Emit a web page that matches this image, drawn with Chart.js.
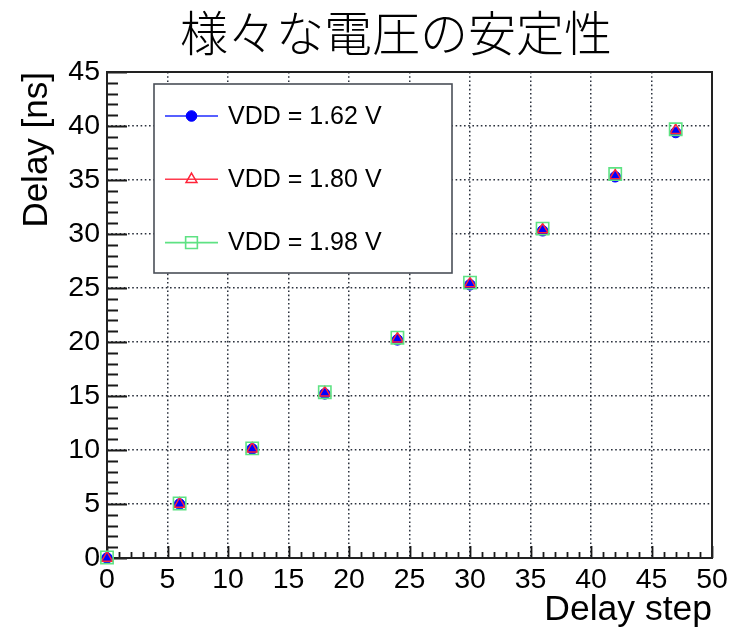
<!DOCTYPE html>
<html>
<head>
<meta charset="utf-8">
<title>様々な電圧の安定性</title>
<script src="https://cdn.jsdelivr.net/npm/chart.js@4/dist/chart.umd.min.js"></script>
<style>
  html, body { margin: 0; padding: 0; background: #ffffff; }
  #wrap { width: 742px; height: 633px; }
</style>
</head>
<body>
<div id="wrap"><canvas id="c" width="742" height="633"></canvas></div>
<script>
// Delay step settings and measured delays for three supply voltages
const delaySteps = [0, 6, 12, 18, 24, 30, 36, 42, 47];
const delayVdd162 = [0.0, 5.0, 10.1, 15.2, 20.2, 25.3, 30.3, 35.3, 39.4];
const delayVdd180 = [0.0, 5.0, 10.1, 15.3, 20.3, 25.4, 30.4, 35.4, 39.6];
const delayVdd198 = [0.05, 5.05, 10.15, 15.35, 20.4, 25.5, 30.5, 35.55, 39.7];
const seriesLabels = ['VDD = 1.62 V', 'VDD = 1.80 V', 'VDD = 1.98 V'];

// Axis tick values
const xTickValues = [0, 5, 10, 15, 20, 25, 30, 35, 40, 45, 50];
const yTickValues = [0, 5, 10, 15, 20, 25, 30, 35, 40, 45];

const chartTitle = '様々な電圧の安定性';
const xTitle = 'Delay step';
const yTitle = 'Delay [ns]';

const FONT = '"Liberation Sans", Arial, Helvetica, sans-serif';
const GRID_COLOR = '#2a303c';

function toPoints(xs, ys) {
  return xs.map((x, i) => ({ x: x, y: ys[i] }));
}

// Title, frame, inward major/minor ticks and the boxed legend
const decorPlugin = {
  id: 'decor',
  beforeDatasetsDraw(chart) {
    const ctx = chart.ctx;
    const a = chart.chartArea;
    const xs = chart.scales.x, ys = chart.scales.y;
    ctx.save();
    ctx.strokeStyle = '#1a1a1a';
    ctx.lineWidth = 1.8;
    ctx.beginPath();
    for (let v = xs.min; v <= xs.max; v += 1) {
      const px = Math.round(xs.getPixelForValue(v)) + 0.5;
      const len = (v % 5 === 0) ? 12 : 6;
      ctx.moveTo(px, a.bottom);
      ctx.lineTo(px, a.bottom - len);
    }
    for (let v = ys.min; v <= ys.max; v += 1) {
      const py = Math.round(ys.getPixelForValue(v)) + 0.5;
      const len = (v % 5 === 0) ? 20 : 11;
      ctx.moveTo(a.left, py);
      ctx.lineTo(a.left + len, py);
    }
    ctx.stroke();
    ctx.lineWidth = 2;
    ctx.strokeStyle = '#222222';
    ctx.strokeRect(a.left, a.top, a.right - a.left, a.bottom - a.top);
    ctx.restore();
  },
  afterDraw(chart) {
    const ctx = chart.ctx;
    const a = chart.chartArea;
    ctx.save();
    // chart title
    ctx.fillStyle = '#000000';
    ctx.font = '300 48px "Noto Sans CJK JP", "Noto Sans CJK SC", sans-serif';
    ctx.textAlign = 'center';
    ctx.textBaseline = 'middle';
    ctx.fillText(chartTitle, 396, 33);

    // legend box
    const bx = a.left + 47, by = a.top + 12, bw = 298, bh = 189;
    ctx.fillStyle = '#ffffff';
    ctx.fillRect(bx, by, bw, bh);
    ctx.strokeStyle = '#4a4f58';
    ctx.lineWidth = 1.6;
    ctx.strokeRect(bx, by, bw, bh);

    const rowH = 63.3;
    chart.data.datasets.forEach((ds, i) => {
      const cy = by + 32 + i * rowH;
      ctx.strokeStyle = ds.borderColor;
      ctx.lineWidth = 1.6;
      ctx.beginPath();
      ctx.moveTo(bx + 11, cy);
      ctx.lineTo(bx + 64, cy);
      ctx.stroke();
      ctx.fillStyle = ds.pointBackgroundColor;
      ctx.strokeStyle = ds.pointBorderColor;
      ctx.lineWidth = ds.pointBorderWidth;
      Chart.helpers.drawPoint(ctx, {
        pointStyle: ds.pointStyle,
        radius: ds.legendRadius,
        borderWidth: ds.pointBorderWidth,
        rotation: 0
      }, bx + 37.5, cy);
      ctx.fillStyle = '#000000';
      ctx.font = '25px ' + FONT;
      ctx.textAlign = 'left';
      ctx.textBaseline = 'middle';
      ctx.fillText(ds.label, bx + 74, cy + 1);
    });
    ctx.restore();
  }
};

const commonScale = {
  type: 'linear',
  border: { display: false, dash: [1.6, 2.6] },
  grid: {
    drawTicks: false,
    color: GRID_COLOR,
    lineWidth: 1.5
  }
};

new Chart(document.getElementById('c'), {
  type: 'scatter',
  data: {
    datasets: [
      {
        label: seriesLabels[0],
        data: toPoints(delaySteps, delayVdd162),
        borderColor: '#1f2bff',
        backgroundColor: '#0000ff',
        pointStyle: 'circle',
        pointRadius: 5.3,
        pointBackgroundColor: '#0000ff',
        pointBorderColor: '#0000ff',
        pointBorderWidth: 1,
        legendRadius: 5.3,
        showLine: false,
        clip: false,
        order: 3
      },
      {
        label: seriesLabels[1],
        data: toPoints(delaySteps, delayVdd180),
        borderColor: '#ff3b4e',
        backgroundColor: 'rgba(0,0,0,0)',
        pointStyle: 'triangle',
        pointRadius: 6.3,
        pointBackgroundColor: 'rgba(0,0,0,0)',
        pointBorderColor: '#ff2238',
        pointBorderWidth: 1.5,
        legendRadius: 6.3,
        showLine: false,
        clip: false,
        order: 2
      },
      {
        label: seriesLabels[2],
        data: toPoints(delaySteps, delayVdd198),
        borderColor: '#5ee283',
        backgroundColor: 'rgba(0,0,0,0)',
        pointStyle: 'rect',
        pointRadius: 8.7,
        pointBackgroundColor: 'rgba(0,0,0,0)',
        pointBorderColor: '#5ee283',
        pointBorderWidth: 1.6,
        legendRadius: 8.3,
        showLine: false,
        clip: false,
        order: 1
      }
    ]
  },
  options: {
    responsive: false,
    animation: false,
    devicePixelRatio: 1,
    layout: { padding: { top: 72, right: 30, bottom: 0, left: 0 } },
    plugins: {
      legend: { display: false },
      title: { display: false },
      tooltip: { enabled: false }
    },
    elements: { point: { hoverRadius: 5 } },
    scales: {
      x: Object.assign({}, commonScale, {
        position: 'bottom',
        min: 0,
        max: 50,
        afterBuildTicks: s => { s.ticks = xTickValues.map(v => ({ value: v })); },
        afterFit: s => { s.height = 75; },
        ticks: {
          color: '#000000',
          font: { family: FONT, size: 28.5 },
          padding: 5,
          maxRotation: 0,
          autoSkip: false
        },
        title: {
          display: true,
          text: xTitle,
          align: 'end',
          color: '#000000',
          font: { family: FONT, size: 35.5 },
          padding: { top: 0, bottom: 1 }
        }
      }),
      y: Object.assign({}, commonScale, {
        position: 'left',
        min: 0,
        max: 45,
        afterBuildTicks: s => { s.ticks = yTickValues.map(v => ({ value: v })); },
        afterFit: s => { s.width = 107; },
        ticks: {
          color: '#000000',
          font: { family: FONT, size: 28.5 },
          padding: 7,
          autoSkip: false
        },
        title: {
          display: true,
          text: yTitle,
          align: 'end',
          color: '#000000',
          font: { family: FONT, size: 35 },
          padding: { top: 16, bottom: 0 }
        }
      })
    }
  },
  plugins: [decorPlugin]
});
</script>
</body>
</html>
